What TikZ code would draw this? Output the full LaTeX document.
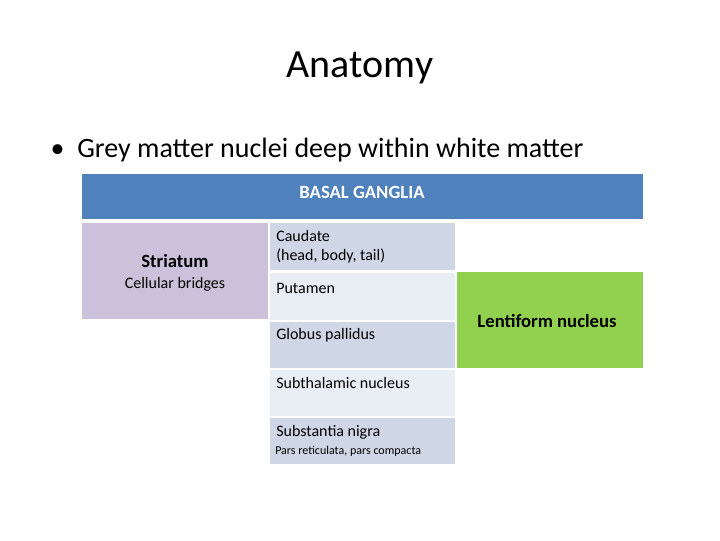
\documentclass[tikz,border=0pt]{standalone}
\usepackage{fontspec}
\setmainfont{Carlito}
\definecolor{hdr}{HTML}{4F81BD}
\definecolor{lav}{HTML}{CCC1DA}
\definecolor{dk}{HTML}{CFD7E7}
\definecolor{lt}{HTML}{E9EDF4}
\definecolor{grn}{HTML}{92D050}
\begin{document}
\begin{tikzpicture}[x=0.75pt,y=-0.75pt,
  cell/.style={anchor=north west,inner sep=0pt,text width=#1},
  txt/.style={anchor=west,inner sep=0pt,font=\fontsize{12}{14}\selectfont,align=left}]
\useasboundingbox (0,0) rectangle (720,540);
\node (title) at (360,68) {\fontsize{30}{34}\selectfont Anatomy};
\node[anchor=west] (bul) at (46,150) {\fontsize{21}{25}\selectfont \textbullet\ \ Grey matter nuclei deep within white matter};
\fill[hdr] (82,174) rectangle (643,219);
\node[text=white,font=\bfseries\fontsize{14}{16}\selectfont] (hd) at (362,192) {BASAL GANGLIA};
\fill[lav] (82,223) rectangle (268,319);
\node[font=\bfseries\fontsize{14}{16}\selectfont] (str) at (175,261) {Striatum};
\node[font=\fontsize{12}{14}\selectfont] (cb) at (175,284) {Cellular bridges};
\fill[dk] (270,223) rectangle (455,270);
\fill[lt] (270,273) rectangle (455,320);
\fill[dk] (270,322) rectangle (455,368);
\fill[lt] (270,370) rectangle (455,416);
\fill[dk] (270,418) rectangle (455,464);
\fill[grn] (457,272) rectangle (643,368);
\node[txt] (cau) at (276,247) {Caudate\\(head, body, tail)};
\node[txt] (put) at (276,288) {Putamen};
\node[txt] (gp) at (276,335) {Globus pallidus};
\node[txt] (stn) at (276,383) {Subthalamic nucleus};
\node[txt] (sn) at (276,432) {Substantia nigra};
\node[anchor=west,inner sep=0pt,font=\fontsize{9}{10}\selectfont] (pr) at (275,451) {Pars reticulata, pars compacta};
\node[font=\bfseries\fontsize{14}{16}\selectfont] (len) at (547,321) {Lentiform nucleus};
\end{tikzpicture}
\end{document}
